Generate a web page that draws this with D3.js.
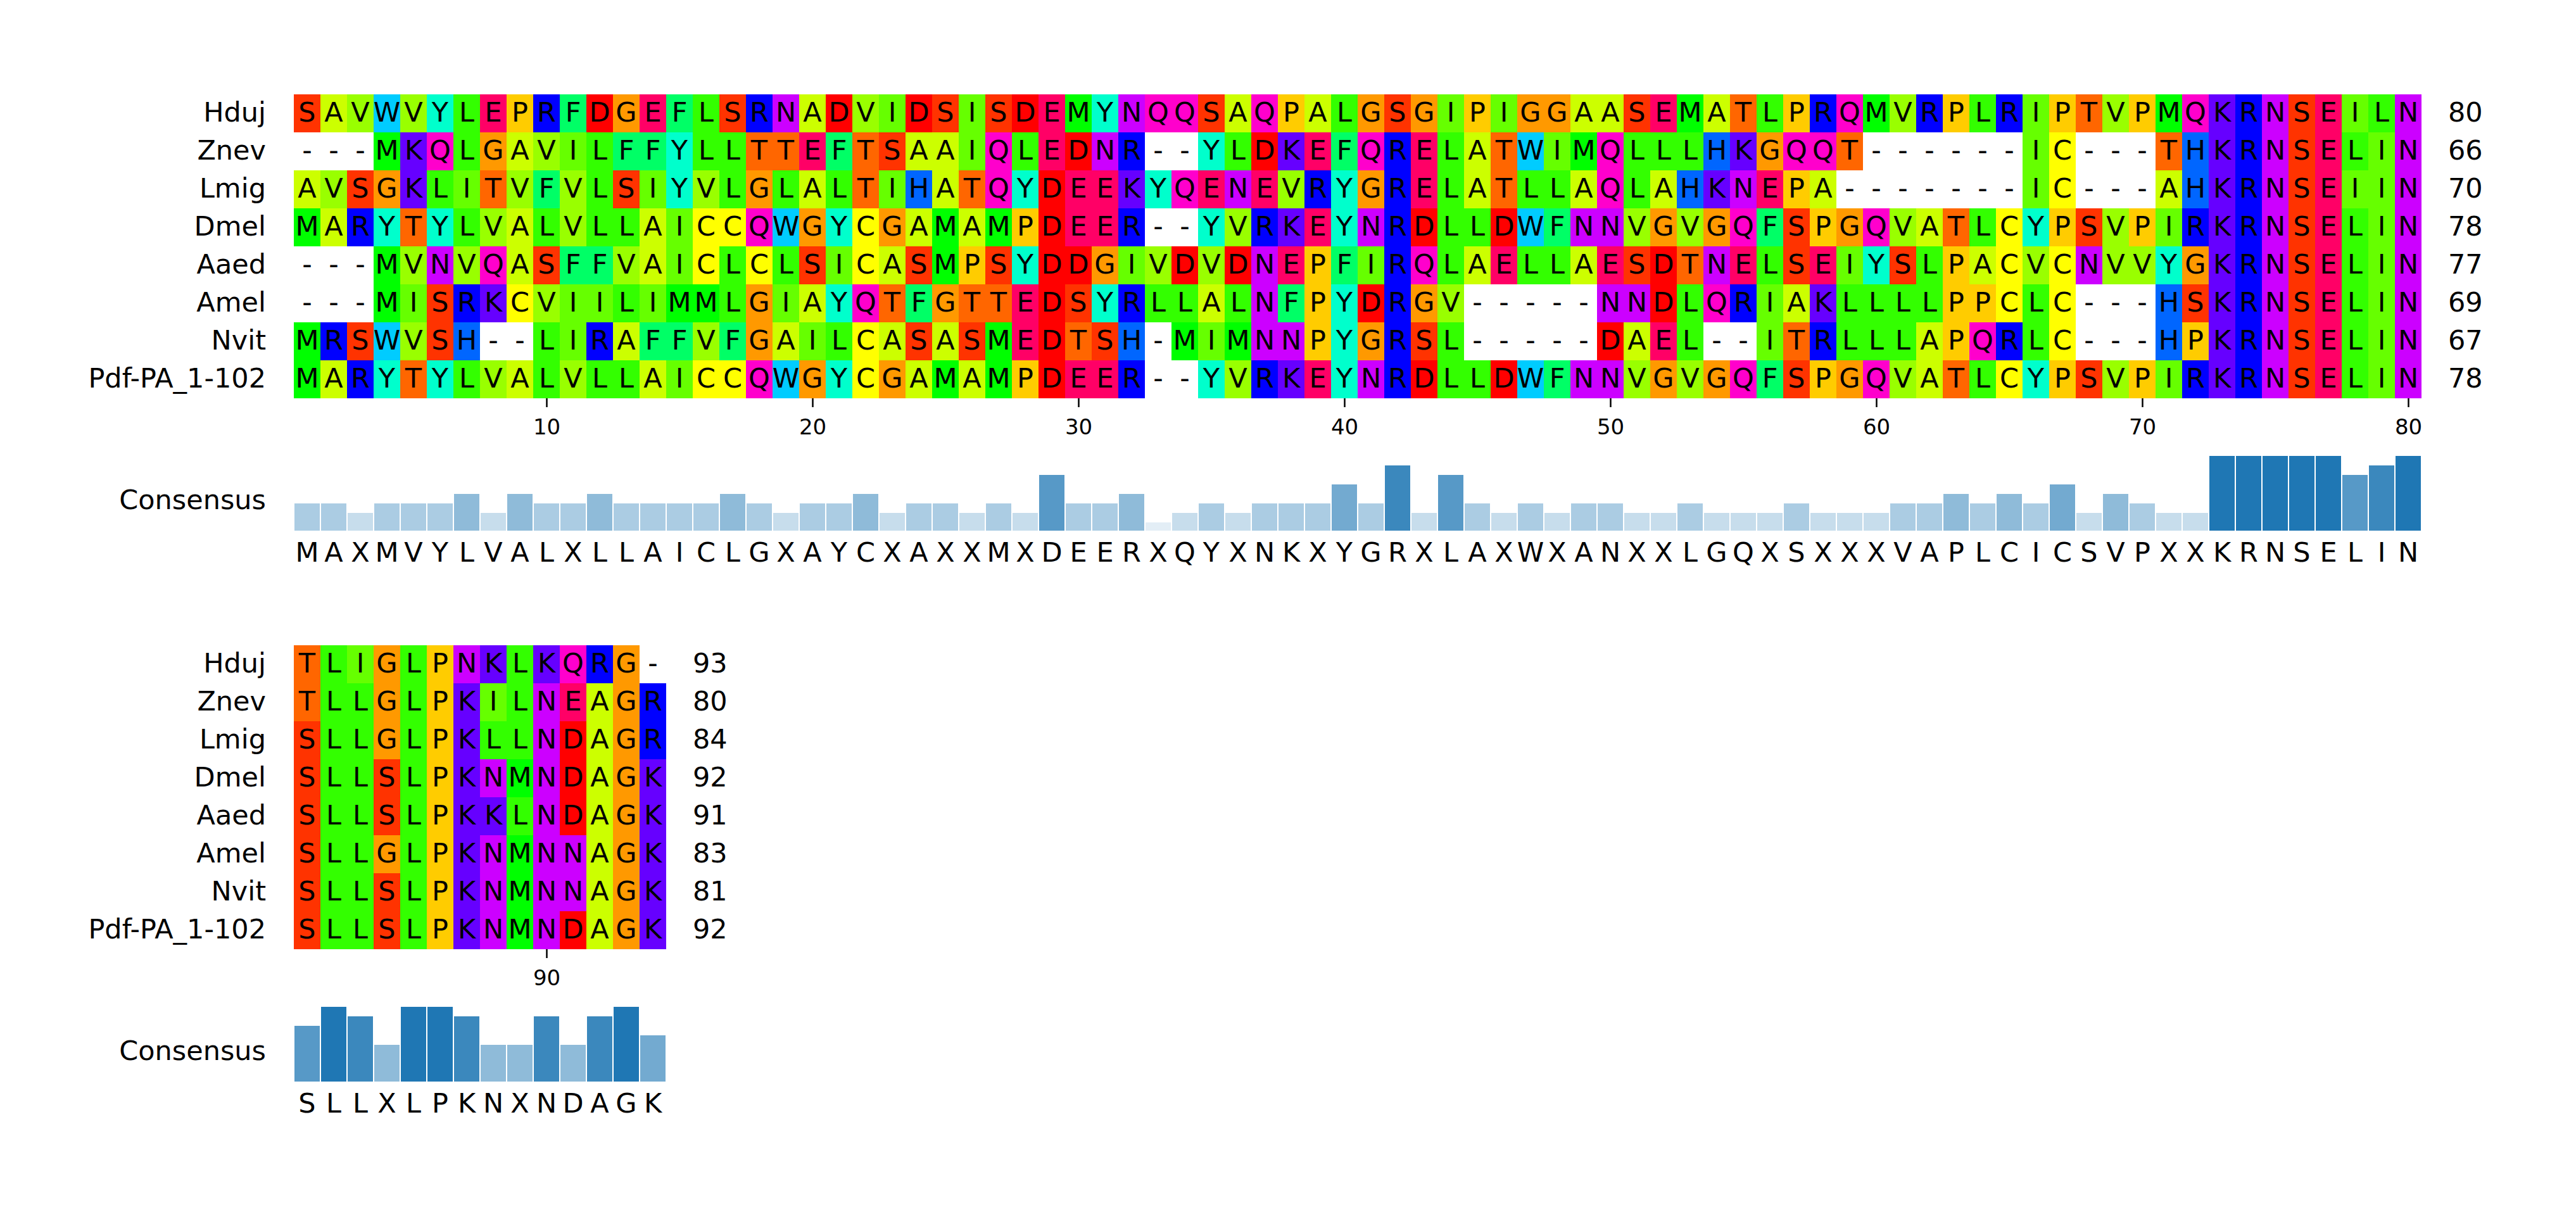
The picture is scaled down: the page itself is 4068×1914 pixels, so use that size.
<!DOCTYPE html>
<html><head><meta charset="utf-8">
<script src="https://cdn.jsdelivr.net/npm/d3@7"></script>
<style>body{margin:0;background:#fff}svg{display:block}text{font-family:"DejaVu Sans",sans-serif;fill:#000}</style>
</head><body>
<script>
// ---------- data ----------
const names = ["Hduj","Znev","Lmig","Dmel","Aaed","Amel","Nvit","Pdf-PA_1-102"];

const block1Start = 1;
const block1Seqs = [
  "SAVWVYLEPRFDGEFLSRNADVIDSISDEMYNQQSAQPALGSGIPIGGAASEMATLPRQMVRPLRIPTVPMQKRNSEILN",
  "---MKQLGAVILFFYLLTTEFTSAAIQLEDNR--YLDKEFQRELATWIMQLLLHKGQQT------IC---THKRNSELIN",
  "AVSGKLITVFVLSIYVLGLALTIHATQYDEEKYQENEVRYGRELATLLAQLAHKNEPA-------IC---AHKRNSEIIN",
  "MARYTYLVALVLLAICCQWGYCGAMAMPDEER--YVRKEYNRDLLDWFNNVGVGQFSPGQVATLCYPSVPIRKRNSELIN",
  "---MVNVQASFFVAICLCLSICASMPSYDDGIVDVDNEPFIRQLAELLAESDTNELSEIYSLPACVCNVVYGKRNSELIN",
  "---MISRKCVIILIMMLGIAYQTFGTTEDSYRLLALNFPYDRGV-----NNDLQRIAKLLLLPPCLC---HSKRNSELIN",
  "MRSWVSH--LIRAFFVFGAILCASASMEDTSH-MIMNNPYGRSL-----DAEL--ITRLLLAPQRLC---HPKRNSELIN",
  "MARYTYLVALVLLAICCQWGYCGAMAMPDEER--YVRKEYNRDLLDWFNNVGVGQFSPGQVATLCYPSVPIRKRNSELIN"
];
const block1Ends = [80, 66, 70, 78, 77, 69, 67, 78];
const block1Ticks = [10, 20, 30, 40, 50, 60, 70, 80];
const block1Consensus = "MAXMVYLVALXLLAICLGXAYCXAXXMXDEERXQYXNKXYGRXLAXWXANXXLGQXSXXXVAPLCICSVPXXKRNSELIN".split("");
const block1Counts = [3,3,2,3,3,3,4,2,4,3, 3,4,3,3,3,3,4,3,2,3,
                      3,4,2,3,3,2,3,2,6,3, 3,4,1,2,3,2,3,3,3,5,
                      3,7,2,6,3,2,3,2,3,3, 2,2,3,2,2,2,3,2,2,2,
                      3,3,4,3,4,3,5,2,4,3, 2,2,8,8,8,8,8,6,7,8];

const block2Start = 81;
const block2Seqs = [
  "TLIGLPNKLKQRG-",
  "TLLGLPKILNEAGR",
  "SLLGLPKLLNDAGR",
  "SLLSLPKNMNDAGK",
  "SLLSLPKKLNDAGK",
  "SLLGLPKNMNNAGK",
  "SLLSLPKNMNNAGK",
  "SLLSLPKNMNDAGK"
];
const block2Ends = [93, 80, 84, 92, 91, 83, 81, 92];
const block2Ticks = [90];
const block2Consensus = "SLLXLPKNXNDAGK".split("");
const block2Counts = [6,8,7,4,8,8,7,4,4,7,4,7,8,5];

const nSeqs = names.length;

// Taylor residue colour scheme
const taylor = {
  D:"#FF0000", S:"#FF3300", T:"#FF6600", G:"#FF9900", P:"#FFCC00",
  C:"#FFFF00", A:"#CCFF00", V:"#99FF00", I:"#66FF00", L:"#33FF00",
  M:"#00FF00", F:"#00FF66", Y:"#00FFCC", W:"#00CCFF", H:"#0066FF",
  R:"#0000FF", K:"#6600FF", N:"#CC00FF", Q:"#FF00CC", E:"#FF0066"
};

// ---------- drawing ----------
const W = 4068, H = 1914;
const svg = d3.select("body").append("svg").attr("width", W).attr("height", H);
svg.append("rect").attr("width", W).attr("height", H).attr("fill", "#fff");

const left = 464, colW = 42, rowsH = 480, labelX = 420;
const fs = 43;

function drawBlock(seqs, ends, start, ticks, cons, counts, top) {
  const n = seqs[0].length;
  const x = d3.scaleLinear().domain([start - 0.5, start + n - 0.5]).range([left, left + n * colW]);
  const y = d3.scaleBand().domain(names).range([top, top + rowsH]);
  const cw = x(start + 0.5) - x(start - 0.5);
  const g = svg.append("g");

  names.forEach((nm, i) => {
    const row = g.append("g");
    const cells = seqs[i].split("").map((c, j) => ({c, pos: start + j}));
    row.selectAll("rect").data(cells.filter(d => d.c !== "-")).join("rect")
      .attr("x", d => x(d.pos - 0.5)).attr("y", y(nm))
      .attr("width", cw).attr("height", y.bandwidth())
      .attr("fill", d => taylor[d.c]).attr("shape-rendering", "crispEdges");
    row.selectAll("text").data(cells).join("text")
      .attr("x", d => x(d.pos)).attr("y", y(nm) + 43)
      .attr("text-anchor", "middle").attr("font-size", fs).text(d => d.c);
    row.append("text").attr("x", labelX).attr("y", y(nm) + 43)
      .attr("text-anchor", "end").attr("font-size", fs).text(nm);
    row.append("text").attr("x", x(start + n - 0.5) + 42).attr("y", y(nm) + 43)
      .attr("text-anchor", "start").attr("font-size", fs).text(ends[i]);
  });

  const axisY = top + rowsH;
  const ax = g.append("g").attr("transform", `translate(0,${axisY})`)
    .call(d3.axisBottom(x).tickValues(ticks).tickSize(14).tickFormat(d3.format("d")));
  ax.select(".domain").remove();
  ax.selectAll(".tick line").attr("stroke", "#000").attr("stroke-width", 2.5);
  ax.selectAll(".tick text").attr("y", 57).attr("dy", null)
    .attr("font-size", 34).attr("font-family", "DejaVu Sans").attr("fill", "#000");

  const base = top + rowsH + 209;
  const cy = d3.scaleLinear().domain([0, nSeqs]).range([base + 1, base + 1 - 120]);
  const consData = cons.map((c, j) => ({c, pos: start + j, k: counts[j]}));
  g.append("g").selectAll("rect").data(consData).join("rect")
    .attr("x", d => x(d.pos - 0.5)).attr("width", cw)
    .attr("y", d => cy(d.k)).attr("height", d => cy(0) - cy(d.k))
    .attr("fill", "#1f77b4").attr("fill-opacity", d => d.k / nSeqs)
    .attr("stroke", "#fff").attr("stroke-width", 2);
  g.append("g").selectAll("text").data(consData).join("text")
    .attr("x", d => x(d.pos)).attr("y", base + 49)
    .attr("text-anchor", "middle").attr("font-size", fs).text(d => d.c);
  g.append("text").attr("x", labelX).attr("y", base - 34)
    .attr("text-anchor", "end").attr("font-size", fs).text("Consensus");
}

drawBlock(block1Seqs, block1Ends, block1Start, block1Ticks, block1Consensus, block1Counts, 149);
drawBlock(block2Seqs, block2Ends, block2Start, block2Ticks, block2Consensus, block2Counts, 1019);
</script>
</body></html>
